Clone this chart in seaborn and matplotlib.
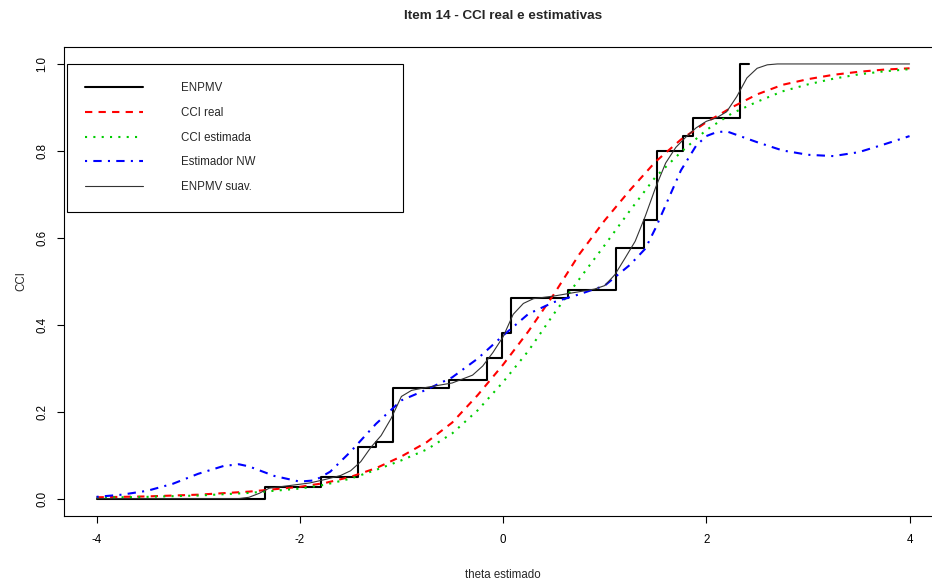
import matplotlib
matplotlib.use("Agg")
import matplotlib.pyplot as plt
import seaborn as sns
import pandas as pd

# ENPMV (funcao escada)
enpmv_theta = [-4.0, -2.34, -1.79, -1.43, -1.25, -1.08, -0.53, -0.155, -0.01, 0.08,
               0.64, 1.11, 1.39, 1.51, 1.77, 1.87, 2.33, 2.42]
enpmv_cci = [0.0, 0.026, 0.05, 0.118, 0.131, 0.255, 0.273, 0.323, 0.382, 0.461,
             0.479, 0.577, 0.642, 0.80, 0.834, 0.876, 1.0, 1.0]

# CCI real e CCI estimada
theta_grid = [-4.0, -3.5, -3.0, -2.5, -2.0, -1.75, -1.5, -1.25, -1.0, -0.75, -0.5, -0.25,
              0.0, 0.25, 0.5, 0.75, 1.0, 1.25, 1.5, 1.75, 2.0, 2.25, 2.5, 2.75, 3.0,
              3.25, 3.5, 3.75, 4.0]
cci_real = [0.003, 0.005, 0.009, 0.016, 0.027, 0.036, 0.050, 0.070, 0.097, 0.130, 0.175, 0.238,
            0.308, 0.385, 0.470, 0.562, 0.640, 0.710, 0.775, 0.826, 0.866, 0.900, 0.930, 0.952,
            0.965, 0.975, 0.982, 0.987, 0.990]
cci_estimada = [0.002, 0.004, 0.007, 0.013, 0.023, 0.032, 0.046, 0.066, 0.088, 0.113, 0.150, 0.203,
                0.268, 0.340, 0.425, 0.505, 0.583, 0.663, 0.740, 0.797, 0.848, 0.886, 0.913, 0.937,
                0.953, 0.966, 0.976, 0.983, 0.988]

# Estimador NW
nw_theta = [-4.0, -3.75, -3.5, -3.25, -3.0, -2.75, -2.6, -2.5, -2.25, -2.0, -1.85, -1.7, -1.5,
            -1.25, -1.0, -0.75, -0.5, -0.25, 0.0, 0.25, 0.5, 0.75, 1.0, 1.25, 1.4, 1.5, 1.6,
            1.75, 1.9, 2.0, 2.1, 2.2, 2.5, 2.75, 3.0, 3.25, 3.5, 3.75, 4.0]
nw_cci = [0.004, 0.009, 0.018, 0.034, 0.057, 0.075, 0.079, 0.074, 0.052, 0.039, 0.042, 0.062, 0.108,
          0.172, 0.226, 0.251, 0.279, 0.322, 0.375, 0.425, 0.452, 0.470, 0.490, 0.538, 0.575, 0.622, 0.675,
          0.755, 0.812, 0.834, 0.843, 0.845, 0.820, 0.801, 0.791, 0.788, 0.797, 0.815, 0.834]

# ENPMV suavizado
suav_theta = [-4.0, -2.6, -2.5, -2.4, -2.3, -2.1, -1.9, -1.75, -1.6, -1.5, -1.4, -1.3, -1.2, -1.1,
              -1.0, -0.9, -0.75, -0.5, -0.3, -0.2, -0.1, 0.0, 0.1, 0.2, 0.3, 0.5, 0.7, 0.9, 1.0,
              1.1, 1.2, 1.3, 1.4, 1.5, 1.6, 1.7, 1.8, 1.9, 2.0, 2.1, 2.2, 2.3, 2.4, 2.5, 2.6,
              2.7, 4.0]
suav_cci = [0.0, 0.0, 0.003, 0.012, 0.024, 0.030, 0.036, 0.044, 0.053, 0.064, 0.085, 0.118, 0.145,
            0.185, 0.235, 0.249, 0.256, 0.266, 0.284, 0.305, 0.336, 0.372, 0.424, 0.449, 0.460,
            0.466, 0.474, 0.482, 0.490, 0.515, 0.553, 0.592, 0.650, 0.715, 0.772, 0.808, 0.832,
            0.853, 0.868, 0.876, 0.890, 0.925, 0.968, 0.990, 0.998, 1.0, 1.0]

x_ticks = [-4, -2, 0, 2, 4]
y_ticks = [0.0, 0.2, 0.4, 0.6, 0.8, 1.0]

sns.set_theme(style="ticks")
plt.rcParams['font.family'] = ['Liberation Sans', 'DejaVu Sans']

fig = plt.figure(figsize=(9.32, 5.85), dpi=100)
ax = fig.add_axes([0.0687, 0.1180, 0.9421, 0.8024])

sns.lineplot(x=enpmv_theta, y=enpmv_cci, ax=ax, color='black', linewidth=1.5,
             drawstyle='steps-post', estimator=None, label='ENPMV')
sns.lineplot(x=theta_grid, y=cci_real, ax=ax, color='red', linewidth=1.5,
             linestyle=(0, (3.5, 3)), estimator=None, label='CCI real')
sns.lineplot(x=theta_grid, y=cci_estimada, ax=ax, color='#00CD00', linewidth=1.5,
             linestyle=(0, (1, 3)), estimator=None, label='CCI estimada')
sns.lineplot(x=nw_theta, y=nw_cci, ax=ax, color='blue', linewidth=1.5,
             linestyle=(0, (1, 3, 4, 3)), estimator=None, label='Estimador NW')
sns.lineplot(x=suav_theta, y=suav_cci, ax=ax, color='#333333', linewidth=0.8,
             estimator=None, label='ENPMV suav.')

ax.set_xlim(-4.32, 4.32)
ax.set_ylim(-0.04, 1.04)
ax.set_xticks(x_ticks)
ax.set_xticklabels([str(v) for v in x_ticks])
ax.set_yticks(y_ticks)
ax.set_yticklabels([f"{v:.1f}" for v in y_ticks], rotation=90, va='center')
ax.tick_params(direction='out', length=5.3, width=0.8, labelsize=8.3, colors='black')
ax.tick_params(axis='x', pad=8)
ax.tick_params(axis='y', pad=6)
for s in ax.spines.values():
    s.set_color('black')
    s.set_linewidth(0.8)

ax.set_xlabel('theta estimado', fontsize=8.3, labelpad=16)
ax.set_ylabel('CCI', fontsize=8.3, labelpad=6.5)
ax.set_title('Item 14 - CCI real e estimativas', fontsize=9.7, fontweight='bold', pad=19.5)

leg = ax.legend(loc='upper left', bbox_to_anchor=(0.003, 0.5, 0.3834, 0.463), mode='expand',
                borderaxespad=0, fontsize=8.3, frameon=True, fancybox=False, edgecolor='black',
                framealpha=1, handlelength=5.0, handletextpad=3.3, labelspacing=1.1, borderpad=1.6)
leg.get_frame().set_linewidth(0.8)

fig.savefig('out.png', dpi=100)
